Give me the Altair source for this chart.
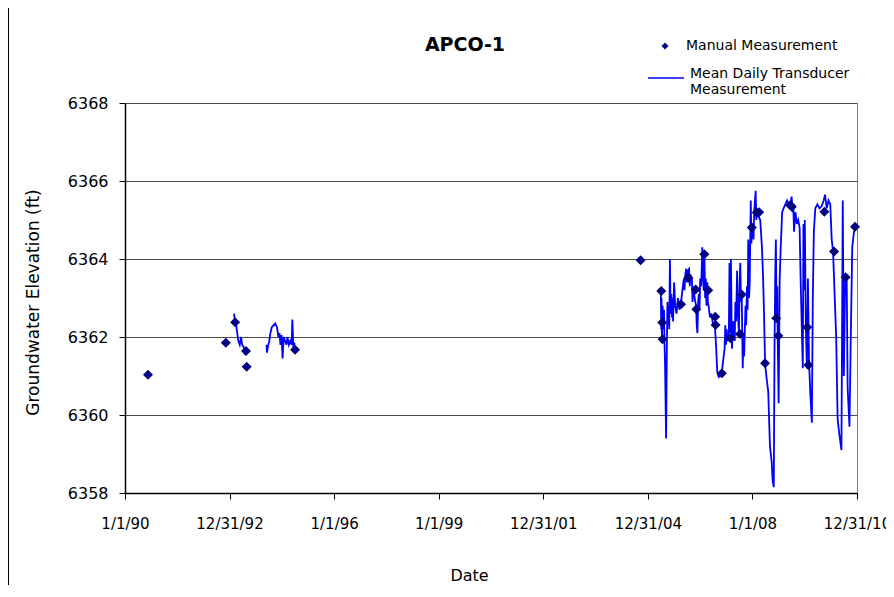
import altair as alt
import pandas as pd
from datetime import date, timedelta

# ---- data (decimal years, feet) ----
chart_title = "APCO-1"

manual_year = [1990.66, 1992.89, 1993.16, 1993.47, 1993.49, 1994.88,
               2004.79, 2005.38, 2005.41, 2005.42, 2005.95, 2006.16,
               2006.37, 2006.39, 2006.62, 2006.73, 2006.93, 2006.94,
               2007.12, 2007.37, 2007.64, 2007.69, 2007.98, 2008.12,
               2008.19, 2008.36, 2008.68, 2008.74, 2009.08, 2009.13,
               2009.57, 2009.60, 2010.06, 2010.34, 2010.67, 2010.94]
manual_ft = [6361.03, 6361.85, 6362.38, 6361.64, 6361.24, 6361.67,
             6363.97, 6363.18, 6362.37, 6361.94, 6362.84, 6363.52,
             6363.22, 6362.71, 6364.12, 6363.20, 6362.52, 6362.31,
             6361.07, 6361.97, 6362.08, 6363.09, 6364.81, 6365.19,
             6365.20, 6361.33, 6362.48, 6362.03, 6365.38, 6365.34,
             6362.25, 6361.28, 6365.21, 6364.19, 6363.53, 6364.83]

transducer_1993 = [
    (1993.13, 6362.60), (1993.15, 6362.40), (1993.19, 6362.30), (1993.22, 6362.10),
    (1993.25, 6361.90), (1993.29, 6361.80), (1993.33, 6362.00), (1993.36, 6361.80),
    (1993.40, 6361.75), (1993.43, 6361.60), (1993.46, 6361.65)]

transducer_1994 = [
    (1994.06, 6361.80), (1994.07, 6361.60), (1994.10, 6361.75), (1994.14, 6361.90),
    (1994.17, 6362.10), (1994.21, 6362.25), (1994.26, 6362.30), (1994.31, 6362.35),
    (1994.36, 6362.25), (1994.40, 6362.00), (1994.43, 6362.10), (1994.46, 6361.80),
    (1994.49, 6362.05), (1994.52, 6361.45), (1994.55, 6362.00), (1994.59, 6361.90),
    (1994.63, 6361.80), (1994.66, 6362.00), (1994.70, 6361.80), (1994.74, 6361.90),
    (1994.78, 6361.80), (1994.80, 6362.45), (1994.83, 6361.75), (1994.86, 6361.80),
    (1994.88, 6361.65)]

transducer_2005_2010 = [
    (2005.37, 6363.20), (2005.38, 6362.20), (2005.39, 6363.00), (2005.40, 6361.90),
    (2005.42, 6362.80), (2005.44, 6362.20), (2005.46, 6362.70), (2005.47, 6362.00),
    (2005.49, 6361.30), (2005.52, 6359.40), (2005.54, 6361.50), (2005.56, 6362.90),
    (2005.58, 6362.30), (2005.60, 6362.80), (2005.61, 6362.20), (2005.63, 6364.00),
    (2005.65, 6362.60), (2005.67, 6363.10), (2005.69, 6362.50), (2005.71, 6363.00),
    (2005.72, 6362.40), (2005.75, 6363.40), (2005.78, 6362.80), (2005.82, 6362.60),
    (2005.86, 6363.00), (2005.90, 6362.70), (2005.95, 6362.90), (2005.99, 6363.20),
    (2006.03, 6363.50), (2006.05, 6363.20), (2006.07, 6363.60), (2006.10, 6363.75),
    (2006.12, 6363.40), (2006.14, 6363.70), (2006.18, 6363.75), (2006.20, 6363.30),
    (2006.22, 6363.60), (2006.26, 6363.50), (2006.28, 6362.90), (2006.30, 6363.30),
    (2006.34, 6363.00), (2006.38, 6362.80), (2006.40, 6362.30), (2006.42, 6362.10),
    (2006.44, 6362.90), (2006.46, 6363.10), (2006.48, 6362.70), (2006.50, 6363.50),
    (2006.53, 6363.30), (2006.56, 6364.30), (2006.58, 6363.60), (2006.60, 6363.20),
    (2006.62, 6364.10), (2006.64, 6363.00), (2006.66, 6363.50), (2006.68, 6362.80),
    (2006.70, 6363.40), (2006.72, 6362.90), (2006.74, 6362.80), (2006.78, 6362.50),
    (2006.82, 6362.60), (2006.87, 6362.30), (2006.92, 6362.30), (2006.96, 6361.70),
    (2006.99, 6361.10), (2007.03, 6360.97), (2007.08, 6361.00), (2007.12, 6361.10),
    (2007.16, 6361.40), (2007.20, 6361.70), (2007.22, 6362.30), (2007.24, 6361.80),
    (2007.26, 6362.20), (2007.28, 6361.90), (2007.32, 6362.00), (2007.34, 6363.90),
    (2007.36, 6362.10), (2007.38, 6364.00), (2007.40, 6362.40), (2007.41, 6361.70),
    (2007.45, 6362.40), (2007.49, 6361.90), (2007.51, 6362.90), (2007.53, 6362.40),
    (2007.56, 6363.70), (2007.58, 6362.60), (2007.61, 6362.10), (2007.63, 6363.30),
    (2007.65, 6363.90), (2007.67, 6362.90), (2007.69, 6363.10), (2007.72, 6361.20),
    (2007.74, 6362.10), (2007.76, 6361.50), (2007.80, 6362.80), (2007.82, 6362.30),
    (2007.84, 6363.30), (2007.86, 6362.70), (2007.88, 6364.50), (2007.90, 6363.00),
    (2007.92, 6363.40), (2007.95, 6365.50), (2007.97, 6364.40), (2007.98, 6364.80),
    (2008.01, 6364.90), (2008.03, 6364.50), (2008.05, 6365.20), (2008.09, 6365.75),
    (2008.11, 6365.00), (2008.13, 6365.20), (2008.17, 6365.10), (2008.22, 6365.00),
    (2008.27, 6364.30), (2008.30, 6363.60), (2008.33, 6362.60), (2008.36, 6361.30),
    (2008.41, 6360.90), (2008.45, 6360.60), (2008.50, 6359.20), (2008.55, 6358.80),
    (2008.58, 6358.30), (2008.61, 6358.15), (2008.63, 6361.70), (2008.65, 6363.50),
    (2008.67, 6364.50), (2008.69, 6362.50), (2008.71, 6363.30), (2008.72, 6362.00),
    (2008.75, 6360.30), (2008.78, 6363.50), (2008.81, 6364.30), (2008.85, 6365.20),
    (2008.89, 6365.30), (2008.94, 6365.40), (2008.99, 6365.50), (2009.04, 6365.40),
    (2009.08, 6365.40), (2009.12, 6365.60), (2009.15, 6365.20), (2009.17, 6365.40),
    (2009.19, 6364.70), (2009.23, 6365.20), (2009.27, 6364.90), (2009.31, 6365.00),
    (2009.35, 6364.80), (2009.38, 6363.40), (2009.41, 6362.30), (2009.44, 6361.20),
    (2009.46, 6364.90), (2009.48, 6363.20), (2009.50, 6365.00), (2009.53, 6362.30),
    (2009.56, 6361.20), (2009.59, 6363.50), (2009.62, 6361.40), (2009.66, 6360.50),
    (2009.70, 6359.80), (2009.73, 6363.00), (2009.76, 6364.70), (2009.80, 6365.30),
    (2009.86, 6365.40), (2009.92, 6365.30), (2009.98, 6365.35), (2010.04, 6365.50),
    (2010.08, 6365.65), (2010.13, 6365.30), (2010.18, 6365.50), (2010.23, 6365.40),
    (2010.27, 6364.50), (2010.31, 6364.20), (2010.36, 6363.00), (2010.40, 6362.00),
    (2010.44, 6359.90), (2010.49, 6359.50), (2010.55, 6359.10), (2010.59, 6365.50),
    (2010.62, 6361.00), (2010.66, 6363.60), (2010.70, 6363.50), (2010.73, 6360.70),
    (2010.78, 6359.70), (2010.82, 6362.00), (2010.86, 6364.30), (2010.91, 6364.70),
    (2010.97, 6364.80)]

tick_dates = [(1990, 1, 1), (1992, 12, 31), (1996, 1, 1), (1999, 1, 1),
              (2001, 12, 31), (2004, 12, 31), (2008, 1, 1), (2010, 12, 31)]
y_ticks = [6358, 6360, 6362, 6364, 6366, 6368]

MANUAL = "Manual Measurement"
TRANS = "Mean Daily Transducer Measurement"


def to_date(y):
    yr = int(y)
    start = date(yr, 1, 1)
    ndays = (date(yr + 1, 1, 1) - start).days
    return (start + timedelta(days=round((y - yr) * ndays))).isoformat()


manual_df = pd.DataFrame({
    "date": [to_date(y) for y in manual_year],
    "ft": manual_ft,
    "series": MANUAL,
})

rows = []
for seg_name, seg in [("1993", transducer_1993), ("1994", transducer_1994),
                      ("2005", transducer_2005_2010)]:
    for y, v in seg:
        rows.append({"date": to_date(y), "ft": v, "segment": seg_name, "series": TRANS})
trans_df = pd.DataFrame(rows)

FONT = "DejaVu Sans"

x_scale = alt.Scale(type="utc", domain=[
    alt.DateTime(year=1990, month=1, date=1, utc=True),
    alt.DateTime(year=2010, month=12, date=31, utc=True)])
y_scale = alt.Scale(domain=[6358, 6368], nice=False, zero=False)

x_axis = alt.Axis(
    values=[alt.DateTime(year=a, month=b, date=c, utc=True) for a, b, c in tick_dates],
    format="%-m/%-d/%y", title="Date", grid=False,
    domainColor="black", domainWidth=1.5, tickColor="black", tickSize=6,
    labelFont=FONT, labelFontSize=15, labelColor="black", labelPadding=17,
    labelOverlap=False, labelFlush=False,
    titleFont=FONT, titleFontSize=16, titleFontWeight="normal", titleColor="black",
    titleX=344, titleY=82, titleBaseline="middle")

y_axis = alt.Axis(
    values=y_ticks, format="d", title="Groundwater Elevation (ft)",
    grid=True, gridColor="#4d4d4d", gridWidth=1,
    domainColor="black", domainWidth=1.5, tickColor="black", tickSize=6,
    labelFont=FONT, labelFontSize=16, labelColor="black", labelPadding=11,
    titleFont=FONT, titleFontSize=17, titleFontWeight="normal", titleColor="black",
    titleX=-92, titleY=199, titleBaseline="middle", titleAngle=270)

lines = alt.Chart(trans_df).mark_line(strokeWidth=1.8).encode(
    x=alt.X("date:T", scale=x_scale, axis=x_axis),
    y=alt.Y("ft:Q", scale=y_scale, axis=y_axis),
    detail="segment:N",
    color=alt.Color("series:N",
                    scale=alt.Scale(domain=[TRANS], range=["#0000FF"]),
                    legend=alt.Legend(
                        title=None, orient="none", legendX=522, legendY=-44,
                        symbolType="stroke", symbolSize=1296, symbolStrokeWidth=1.3,
                        labelExpr="['Mean Daily Transducer', 'Measurement']",
                        labelFont=FONT, labelFontSize=14, labelColor="black",
                        labelOffset=5, labelLimit=400, labelBaseline="alphabetic",
                        padding=0)),
)

points = alt.Chart(manual_df).mark_point(filled=True, size=100, color="#000080", opacity=1).encode(
    x=alt.X("date:T", scale=x_scale),
    y=alt.Y("ft:Q", scale=y_scale),
    shape=alt.Shape("series:N",
                    scale=alt.Scale(domain=[MANUAL], range=["diamond"]),
                    legend=alt.Legend(
                        title=None, orient="none", legendX=533, legendY=-64,
                        symbolSize=50, symbolFillColor="#000080", symbolStrokeWidth=0,
                        labelFont=FONT, labelFontSize=14, labelColor="black",
                        labelOffset=14, labelLimit=400, padding=0)),
)

title_text = alt.Chart(pd.DataFrame({"t": [chart_title]})).mark_text(
    font=FONT, fontSize=19, fontWeight="bold", color="black",
    align="center", baseline="middle").encode(
    text="t:N", x=alt.value(340), y=alt.value(-58))

border = alt.Chart(manual_df).mark_rule(color="#000000", strokeWidth=1).encode(
    x=alt.value(-116.5), y=alt.value(-95), y2=alt.value(494))

chart = alt.layer(border, lines, points, title_text).resolve_legend(
    color="independent", shape="independent"
).properties(
    width=732, height=390,
    autosize=alt.AutoSizeParams(type="none"),
    padding={"left": 117, "top": 95, "right": 29, "bottom": 92},
).configure_view(stroke="#808080", strokeWidth=1)

chart.save("out.html", embed_options={"renderer": "svg", "actions": False})
